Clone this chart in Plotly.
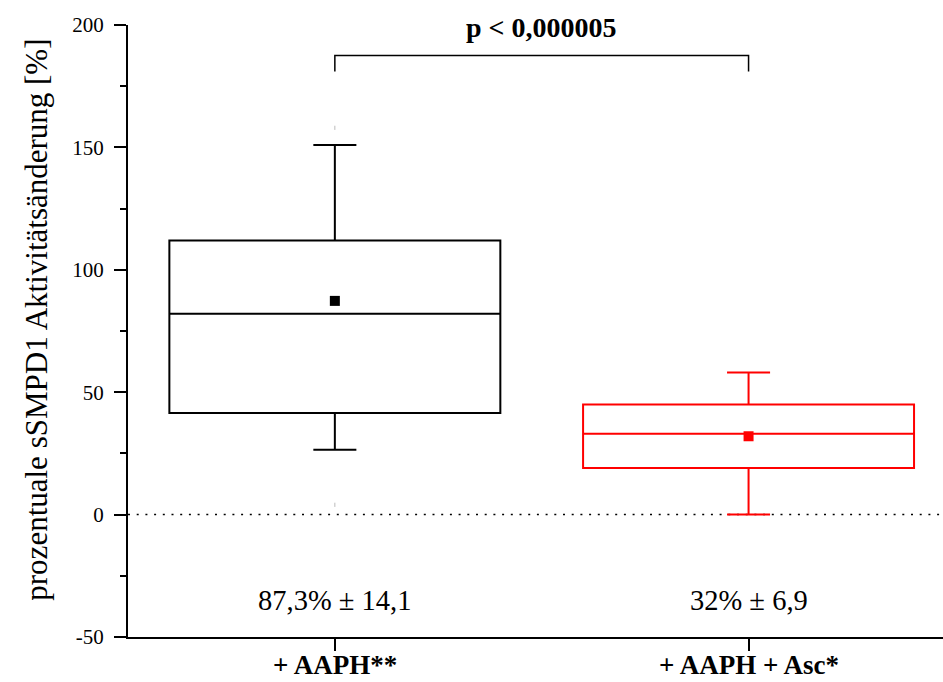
import plotly.graph_objects as go

# Groups and summary statistics (percent change of sSMPD1 activity)
categories = ["+ AAPH**", "+ AAPH + Asc*"]
positions = [1, 2]
q1 = [41.5, 19]
median = [82, 33]
q3 = [112, 45]
whisker_low = [26.5, 0]
whisker_high = [151, 58]
means = [87.3, 32]
sem = [14.1, 6.9]
extreme_min = [4, None]
extreme_max = [158, None]
colors = ["#000000", "#ff0000"]
mean_labels = ["87,3% ± 14,1", "32% ± 6,9"]
p_label = "p < 0,000005"

y_ticks = [-50, 0, 50, 100, 150, 200]
y_ticktext = ["-50", "0", "50", "100", "150", "200"]

SERIF = "Liberation Serif, Times New Roman, serif"

fig = go.Figure()

for i in range(len(categories)):
    fig.add_trace(go.Box(
        x=[positions[i]],
        q1=[q1[i]], median=[median[i]], q3=[q3[i]],
        lowerfence=[whisker_low[i]], upperfence=[whisker_high[i]],
        width=0.8, whiskerwidth=0.13,
        line=dict(color=colors[i], width=2),
        fillcolor="rgba(255,255,255,0)",
        boxpoints=False, showlegend=False, hoverinfo="skip",
    ))
    fig.add_trace(go.Scatter(
        x=[positions[i]], y=[means[i]], mode="markers",
        marker=dict(symbol="square", size=10, color=colors[i]),
        showlegend=False, hoverinfo="skip",
    ))
    ext = [v for v in (extreme_min[i], extreme_max[i]) if v is not None]
    if ext:
        fig.add_trace(go.Scatter(
            x=[positions[i]] * len(ext), y=ext, mode="markers",
            marker=dict(symbol="line-ns", size=3, color="#bbbbbb",
                        line=dict(width=1, color="#bbbbbb")),
            showlegend=False, hoverinfo="skip",
        ))
    fig.add_annotation(
        x=positions[i], y=-35, text=mean_labels[i], showarrow=False,
        xanchor="center", yanchor="middle",
        font=dict(family=SERIF, size=28.5, color="black"),
    )
    # Group label below the axis
    fig.add_annotation(
        x=positions[i], xref="x", yref="paper", y=-0.046,
        text=f"<b>{categories[i]}</b>", showarrow=False,
        xanchor="center", yanchor="middle",
        font=dict(family=SERIF, size=27, color="black"),
    )

# Zero reference line
fig.add_shape(type="line", xref="paper", x0=0, x1=1, yref="y", y0=0, y1=0,
              line=dict(color="black", width=1.5, dash="2px,6.7px"), layer="below")

# Significance bracket
br_top, br_end = 187.5, 181
fig.add_shape(type="path", xref="x", yref="y",
              path=f"M {positions[0]},{br_end} L {positions[0]},{br_top} "
                   f"L {positions[1]},{br_top} L {positions[1]},{br_end}",
              line=dict(color="black", width=1.5))
fig.add_annotation(x=(positions[0] + positions[1]) / 2, y=199,
                   text=f"<b>{p_label}</b>", showarrow=False,
                   xanchor="center", yanchor="middle",
                   font=dict(family=SERIF, size=28, color="black"))

# Y-axis title
fig.add_annotation(xref="paper", yref="paper", x=-0.112, y=0.518,
                   text="prozentuale sSMPD1 Aktivitätsänderung [%]",
                   textangle=-90, showarrow=False,
                   xanchor="center", yanchor="middle",
                   font=dict(family=SERIF, size=31, color="black"))

fig.update_layout(
    width=943, height=682,
    margin=dict(l=128, r=0, t=25, b=45),
    paper_bgcolor="white", plot_bgcolor="white",
    font=dict(family=SERIF, color="black"),
    xaxis=dict(
        range=[0.5, 2.47], showgrid=False, zeroline=False, automargin=False,
        showline=True, linecolor="black", linewidth=2,
        tickmode="array", tickvals=positions, showticklabels=False,
        ticks="outside", ticklen=12, tickwidth=1.5, tickcolor="black",
    ),
    yaxis=dict(
        range=[-50, 200], showgrid=False, zeroline=False, automargin=False,
        showline=True, linecolor="black", linewidth=2,
        tickmode="array", tickvals=y_ticks, ticktext=y_ticktext,
        ticks="outside", ticklen=12, tickwidth=1.5, tickcolor="black",
        tickfont=dict(family=SERIF, size=21, color="black"),
        ticklabelstandoff=6,
        minor=dict(tickmode="linear", tick0=-25, dtick=50, ticks="outside",
                   ticklen=6, tickwidth=1.5, tickcolor="black"),
    ),
)

fig.write_html("out.html")
